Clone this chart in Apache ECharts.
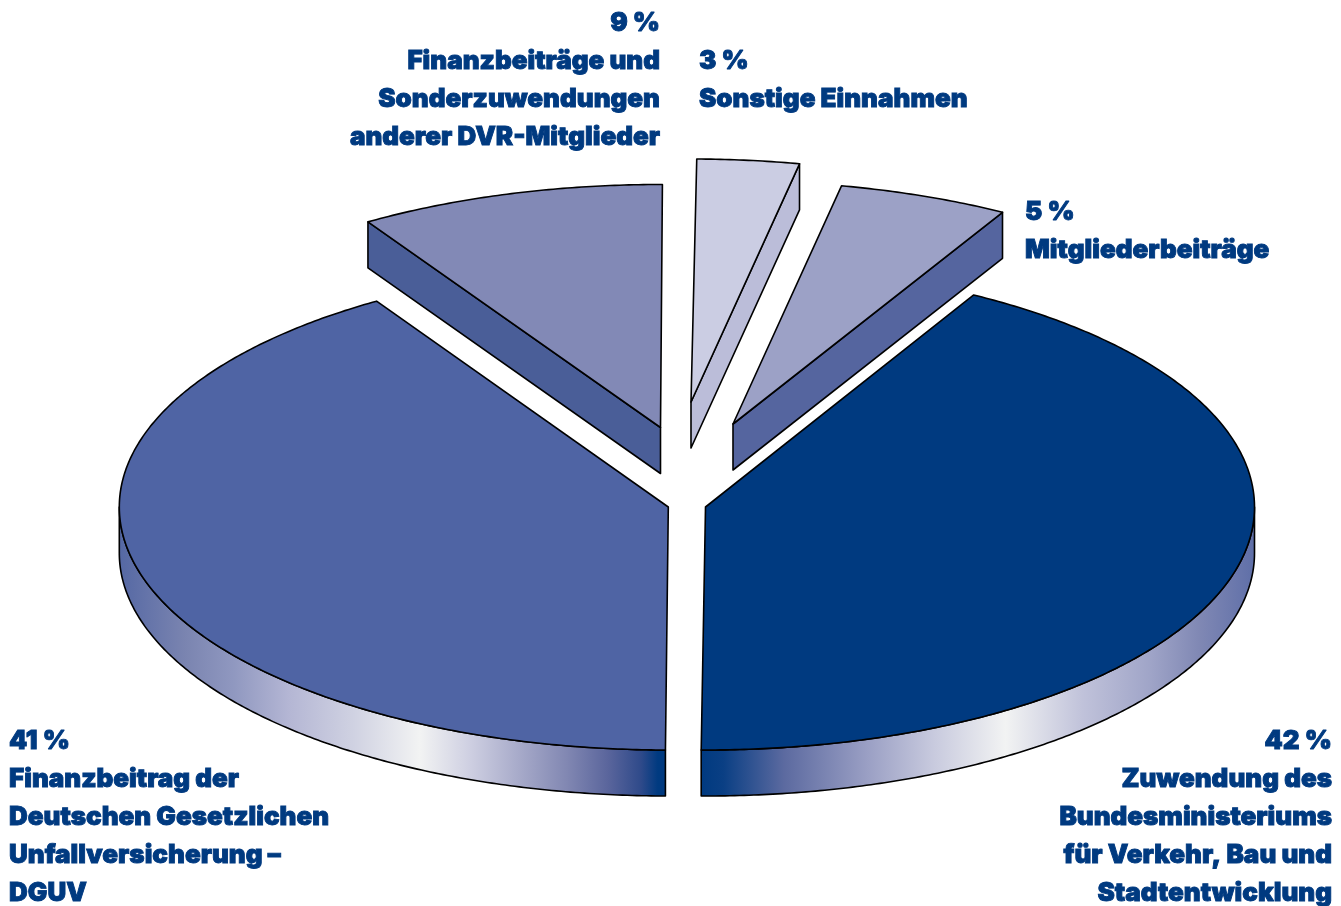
<!DOCTYPE html>
<html lang="de">
<head>
<meta charset="utf-8">
<title>Einnahmen</title>
<style>
  html, body { margin: 0; padding: 0; background: #fff; }
  #chart { width: 1341px; height: 906px; }
</style>
<script src="https://cdn.jsdelivr.net/npm/echarts@6/dist/echarts.min.js"></script>
</head>
<body>
<div id="chart"></div>
<script>
// Income shares, in the clockwise order of the pie, beginning near twelve o'clock.
const shares = [3, 5, 42, 41, 9];
const labelTexts = [
  ['Sonstige Einnahmen'],
  ['Mitgliederbeiträge'],
  ['Zuwendung des', 'Bundesministeriums', 'für Verkehr, Bau und', 'Stadtentwicklung'],
  ['Finanzbeitrag der', 'Deutschen Gesetzlichen', 'Unfallversicherung –', 'DGUV'],
  ['Finanzbeiträge und', 'Sonderzuwendungen', 'anderer DVR-Mitglieder']
];

// Drawing geometry of the tilted disc.
const RX = 549, RY = 243, DEPTH = 46, START_ANGLE = 0.6;
const apexes = [[691, 402], [733, 424], [705.5, 507], [668.3, 507], [660.5, 427.5]];
const turns = [0, 0, -0.15, -0.3, -0.4];
const topColors = ['#cbcde3', '#9ca1c6', '#003a80', '#4f64a4', '#8289b6'];
const sideColors = ['#bbbdd9', '#55659f', null, null, '#4a5e98'];

const INK = '#000';
const TEXT_COLOR = '#003a80';
const LABEL_FONT = '900 26px Inter';
const LABEL_WEIGHT = 0.9;
const LINE_STEP = 38;
const labelAnchors = [
  { x: 699, y: 61, align: 'left' },
  { x: 1025, y: 212, align: 'left' },
  { x: 1332, y: 741, align: 'right' },
  { x: 9, y: 741, align: 'left' },
  { x: 660, y: 23, align: 'right' }
];

// Metallic sheen along the rim of the two large slices, from the inner cut outwards.
const rimStopsRight = [
  [0, '#003a80'], [0.04, '#0a3f84'], [0.15, '#5c6aa0'], [0.3, '#9a9fc4'],
  [0.42, '#c8cade'], [0.55, '#f2f3f3'], [0.69, '#c0c2da'], [0.81, '#a0a5c8'],
  [0.9, '#8088b4'], [1, '#5f6fa8']
];
const rimStopsLeft = [
  [0, '#003a80'], [0.014, '#003a80'], [0.045, '#2f4a8a'], [0.105, '#5a659c'],
  [0.18, '#8187b2'], [0.27, '#a8abca'], [0.36, '#cfd0e2'], [0.45, '#f2f3f3'],
  [0.57, '#d0d2e2'], [0.69, '#b4b6d4'], [0.79, '#9098c0'], [0.88, '#7a84b0'],
  [1, '#5568a4']
];
const rimFill = (fromX, toX, stops) => ({
  type: 'linear', global: true, x: fromX, y: 0, x2: toX, y2: 0,
  colorStops: stops.map(([offset, color]) => ({ offset, color }))
});

const total = shares.reduce((a, b) => a + b, 0);
const toDegrees = v => echarts.number.linearMap(v, [0, total], [0, 360]);

function rimPoint(apex, deg, drop) {
  const r = deg * Math.PI / 180;
  return [apex[0] + RX * Math.sin(r), apex[1] - RY * Math.cos(r) + drop];
}
function arc(apex, from, to, drop) {
  const n = Math.max(2, Math.ceil(Math.abs(to - from) * 2));
  const pts = [];
  for (let i = 0; i <= n; i++) pts.push(rimPoint(apex, from + (to - from) * i / n, drop));
  return pts;
}
const shape = (points, fill) => ({
  type: 'polygon',
  shape: { points },
  style: { fill, stroke: INK, lineWidth: 1.6, lineJoin: 'round' },
  silent: true
});

function renderSlice(params, api) {
  const i = params.dataIndex;
  const before = shares.slice(0, i).reduce((a, b) => a + b, 0);
  const from = START_ANGLE + turns[i] + toDegrees(before);
  const to = from + toDegrees(api.value(0));
  const apex = apexes[i];
  const children = [];

  // Straight cut face, shown where the slice is pulled away from the disc.
  if (sideColors[i]) {
    const edge = from > 180 ? from : to;
    const rim = rimPoint(apex, edge, 0);
    children.push(shape(
      [apex, rim, [rim[0], rim[1] + DEPTH], [apex[0], apex[1] + DEPTH]],
      sideColors[i]
    ));
  }

  // Curved outer wall on the front half of the disc.
  const wallFrom = Math.max(from, 90), wallTo = Math.min(to, 270);
  if (wallFrom < wallTo) {
    const upper = arc(apex, wallFrom, wallTo, 0);
    const lower = arc(apex, wallTo, wallFrom, DEPTH);
    const onRight = wallFrom < 180 && wallTo > 180;
    const xs = upper.map(p => p[0]);
    const fill = onRight
      ? rimFill(Math.min(...xs), Math.max(...xs), rimStopsRight)
      : rimFill(Math.max(...xs), Math.min(...xs), rimStopsLeft);
    children.push(shape(upper.concat(lower), fill));
  }

  // Top surface of the slice.
  children.push(shape([apex].concat(arc(apex, from, to, 0)), topColors[i]));

  // Caption: the share first, then its description.
  const anchor = labelAnchors[i];
  [api.value(0) + ' %'].concat(labelTexts[i]).forEach((line, k) => {
    children.push({
      type: 'text',
      silent: true,
      style: {
        text: line, x: anchor.x, y: anchor.y + k * LINE_STEP,
        align: anchor.align, verticalAlign: 'middle',
        font: LABEL_FONT, fill: TEXT_COLOR,
        stroke: TEXT_COLOR, lineWidth: LABEL_WEIGHT
      }
    });
  });
  return { type: 'group', children };
}

const chart = echarts.init(document.getElementById('chart'), null, { renderer: 'canvas' });
chart.setOption({
  animation: false,
  backgroundColor: '#fff',
  series: [{
    type: 'custom',
    coordinateSystem: 'none',
    renderItem: renderSlice,
    data: shares.map(v => [v])
  }]
});
</script>
</body>
</html>
